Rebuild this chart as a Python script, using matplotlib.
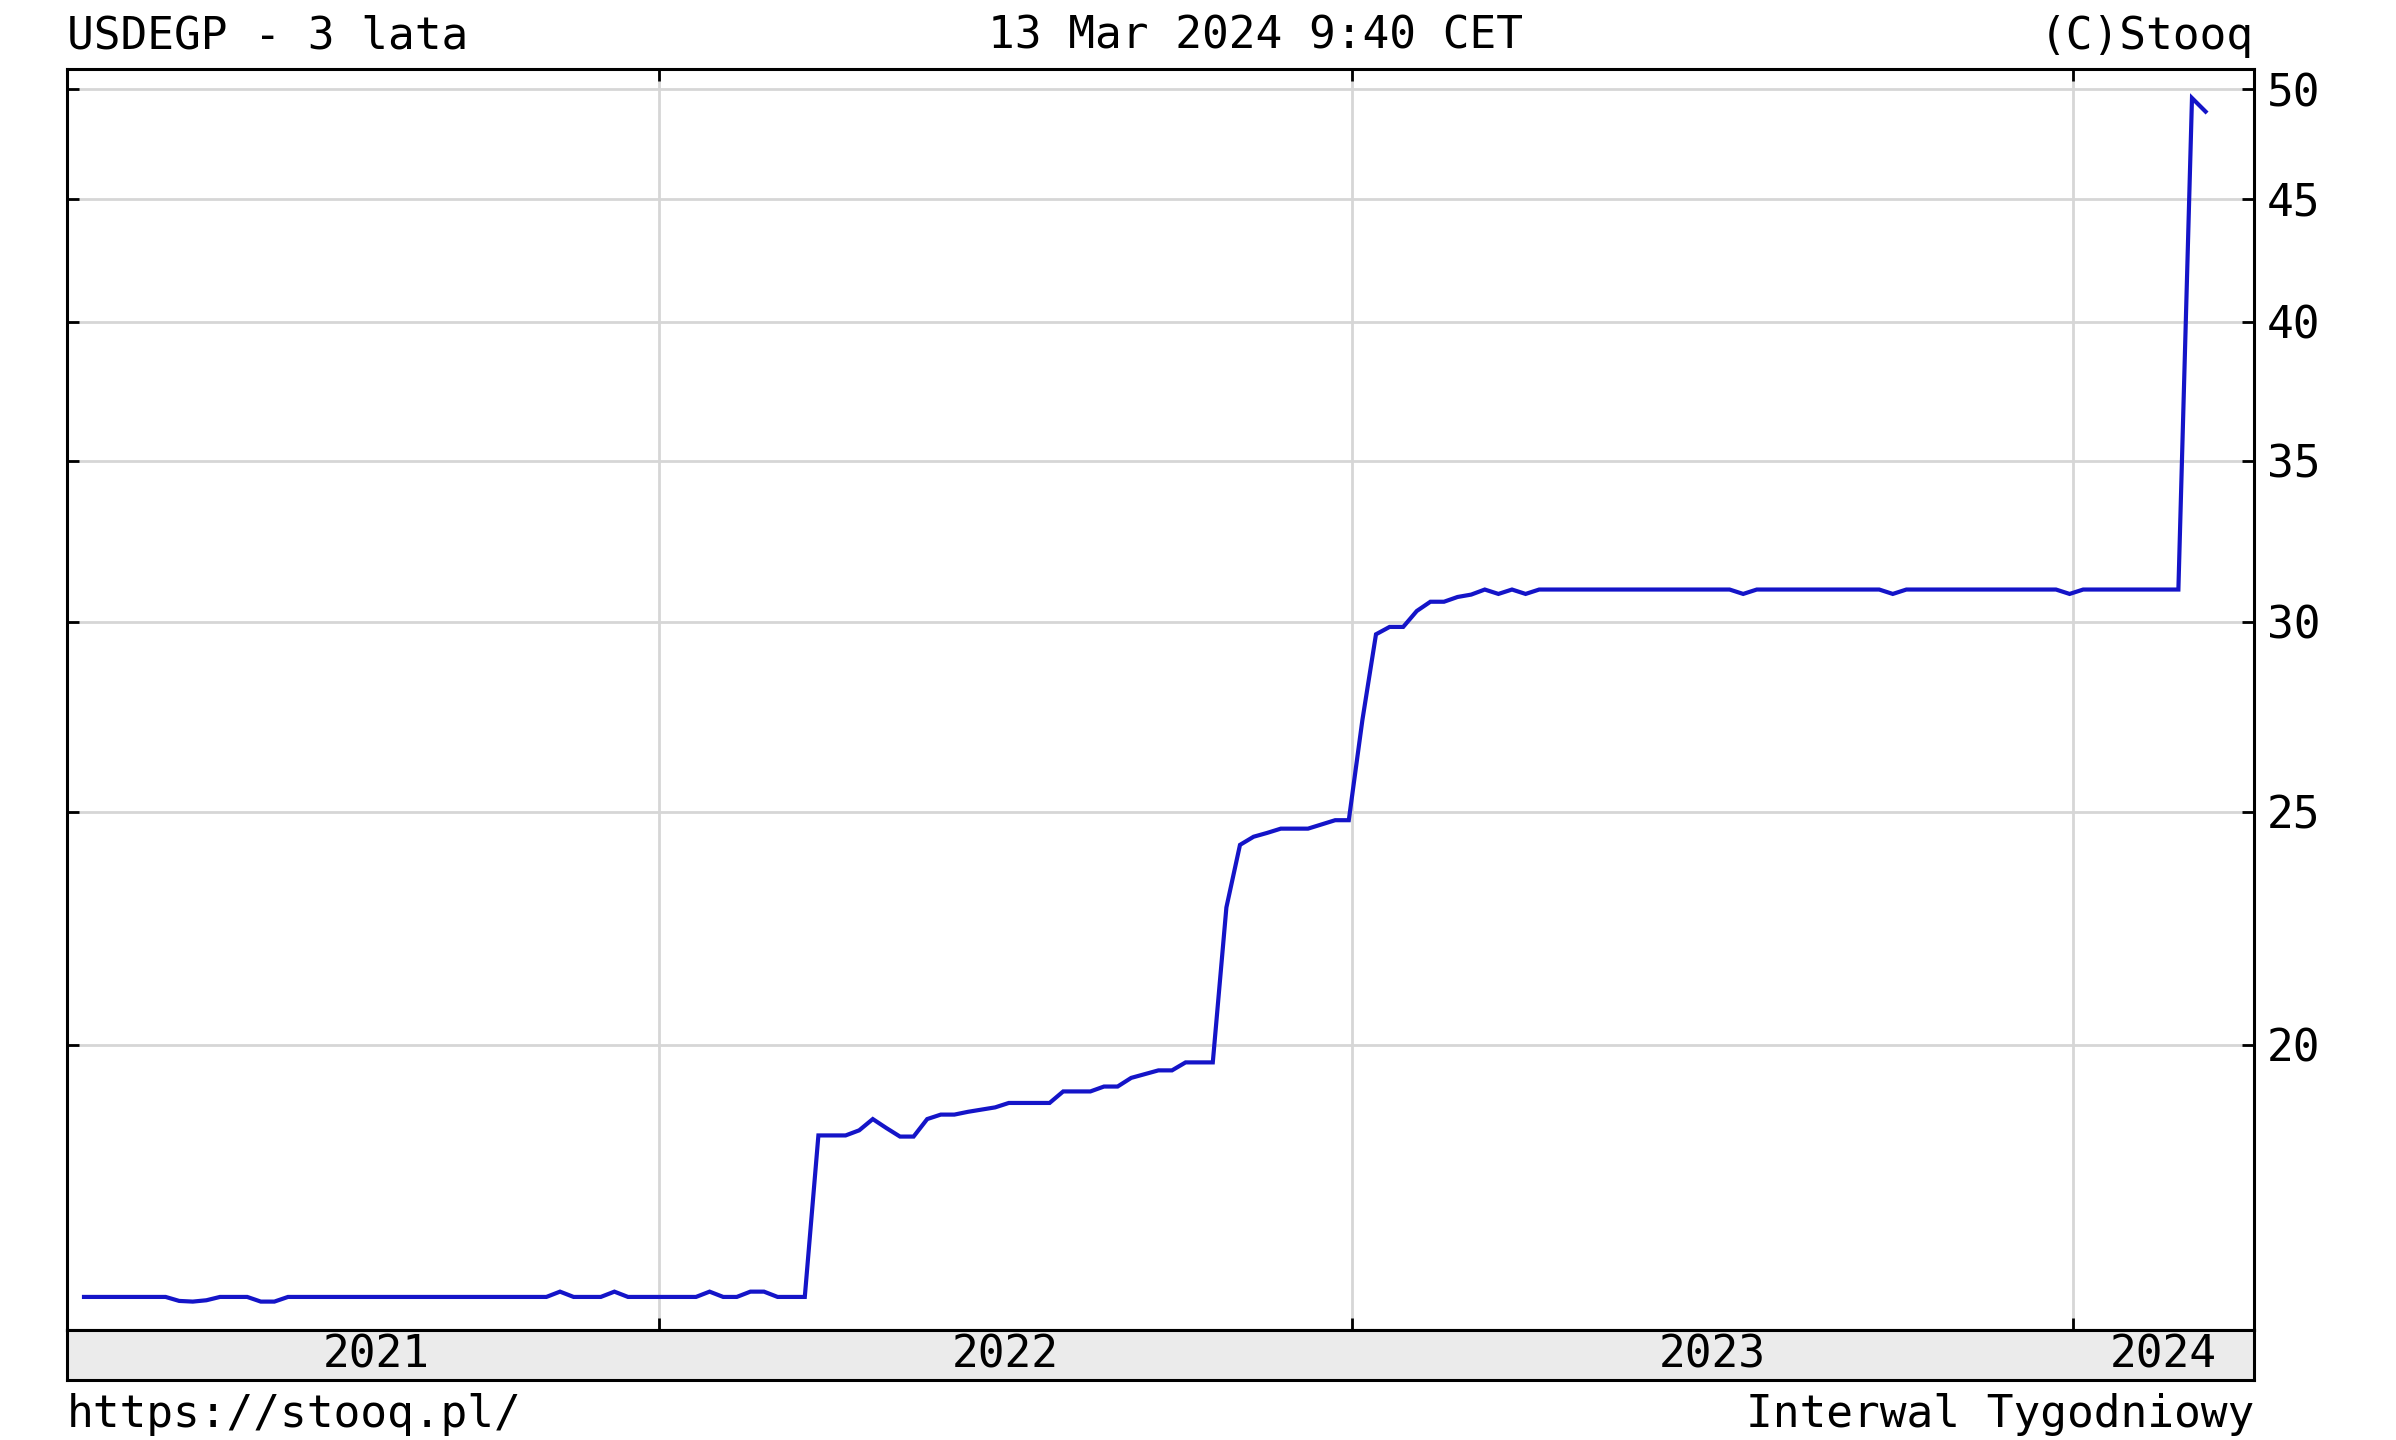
import matplotlib
matplotlib.use("Agg")
import matplotlib.pyplot as plt
from matplotlib.ticker import FixedLocator, NullLocator

# ---- data (weekly closes, USD/EGP, index = week number) ----
values_2021 = [15.70, 15.70, 15.70, 15.70, 15.70, 15.70, 15.70, 15.64, 15.63, 15.65,
               15.70, 15.70, 15.70, 15.63, 15.63, 15.70, 15.70, 15.70, 15.70, 15.70,
               15.70, 15.70, 15.70, 15.70, 15.70, 15.70, 15.70, 15.70, 15.70, 15.70,
               15.70, 15.70, 15.70, 15.70, 15.70, 15.78, 15.70, 15.70, 15.70, 15.78,
               15.70, 15.70, 15.70, 15.70, 15.70, 15.70, 15.78, 15.70, 15.70, 15.78,
               15.78, 15.70, 15.70, 15.70]
values_2022 = [18.33, 18.33, 18.33, 18.42, 18.62, 18.46, 18.31, 18.31, 18.62, 18.70,
               18.70, 18.75, 18.79, 18.83, 18.91, 18.91, 18.91, 18.91, 19.12, 19.12,
               19.12, 19.21, 19.21, 19.37, 19.44, 19.51, 19.51, 19.66, 19.66, 19.66,
               22.81, 24.22, 24.41, 24.50, 24.60, 24.60, 24.60, 24.70, 24.80, 24.80]
values_2023 = [27.30, 29.64, 29.85, 29.85, 30.31, 30.58, 30.58, 30.72, 30.79, 30.94,
               30.81, 30.94, 30.81, 30.94, 30.94, 30.94, 30.94, 30.94, 30.94, 30.94,
               30.94, 30.94, 30.94, 30.94, 30.94, 30.94, 30.94, 30.94, 30.81, 30.94,
               30.94, 30.94, 30.94, 30.94, 30.94, 30.94, 30.94, 30.94, 30.94, 30.81,
               30.94, 30.94, 30.94, 30.94, 30.94, 30.94, 30.94, 30.94, 30.94, 30.94,
               30.94, 30.94]
values_2024 = [30.81, 30.94, 30.94, 30.94, 30.94, 30.94, 30.94, 30.94, 30.94,
               49.57, 48.93]
values = values_2021 + values_2022 + values_2023 + values_2024
weeks = list(range(len(values)))

year_starts = [42.3, 93.25, 146.25]          # week index where a new year begins
year_labels = ["2021", "2022", "2023", "2024"]
y_ticks = [20, 25, 30, 35, 40, 45, 50]
y_tick_labels = ["20", "25", "30", "35", "40", "45", "50"]

title_left = "USDEGP - 3 lata"
title_mid = "13 Mar 2024 9:40 CET"
title_right = "(C)Stooq"
foot_left = "https://stooq.pl/"
foot_right = "Interwal Tygodniowy"

# ---- layout (pixels) ----
W, H = 2396, 1440
L, R, T, B = 67, 2254, 69, 1330
BAND_B = 1380
FONT = "DejaVu Sans Mono"
FS = 32
LINE_COLOR = "#1414c8"
GRID = "#d6d6d6"

plt.rcParams["font.family"] = [FONT]

fig = plt.figure(figsize=(W / 100, H / 100), dpi=100)
fig.patch.set_facecolor("white")

ax = fig.add_axes([L / W, 1 - B / H, (R - L) / W, (B - T) / H])
ax.plot(weeks, values, color=LINE_COLOR, lw=3.0, solid_joinstyle="miter", zorder=3)
ax.set_yscale("log")
ax.set_ylim(15.21, 50.97)
xlim = (-1.25, 159.56)
ax.set_xlim(*xlim)

ax.yaxis.set_major_locator(FixedLocator(y_ticks))
ax.yaxis.set_minor_locator(NullLocator())
ax.set_yticklabels(y_tick_labels)
ax.xaxis.set_major_locator(FixedLocator(year_starts))
ax.xaxis.set_minor_locator(NullLocator())
ax.grid(True, color=GRID, lw=2.0, zorder=0)
ax.tick_params(axis="y", which="major", direction="in", length=8.5, width=2.0,
               left=True, right=True, labelleft=False, labelright=True,
               labelsize=FS, pad=9, colors="black")
ax.tick_params(axis="x", which="major", direction="in", length=8.5, width=2.0,
               top=True, bottom=True, labelbottom=False, labeltop=False)
for s in ax.spines.values():
    s.set_linewidth(2.2)
    s.set_color("black")
for lab in ax.get_yticklabels():
    lab.set_fontfamily(FONT)

# date band
band = fig.add_axes([L / W, 1 - BAND_B / H, (R - L) / W, (BAND_B - B) / H])
band.set_facecolor("#ebebeb")
band.set_xlim(*xlim)
band.set_ylim(0, 1)
band.set_xticks([])
band.set_yticks([])
for s in band.spines.values():
    s.set_linewidth(2.2)
    s.set_color("black")
bounds = [0.7] + year_starts + [xlim[1]]
for i, lab in enumerate(year_labels):
    band.text((bounds[i] + bounds[i + 1]) / 2, 0.5, lab, ha="center", va="center",
              fontsize=FS, fontfamily=FONT, color="black")

# header / footer
fig.text(L / W, 1 - 36 / H, title_left, ha="left", va="center", fontsize=FS, fontfamily=FONT)
fig.text(1255 / W, 1 - 36 / H, title_mid, ha="center", va="center", fontsize=FS, fontfamily=FONT)
fig.text(R / W, 1 - 36 / H, title_right, ha="right", va="center", fontsize=FS, fontfamily=FONT)
fig.text(L / W, 1 - 1414 / H, foot_left, ha="left", va="center", fontsize=FS, fontfamily=FONT)
fig.text(R / W, 1 - 1414 / H, foot_right, ha="right", va="center", fontsize=FS, fontfamily=FONT)

fig.savefig("out.png", dpi=100, facecolor="white")
